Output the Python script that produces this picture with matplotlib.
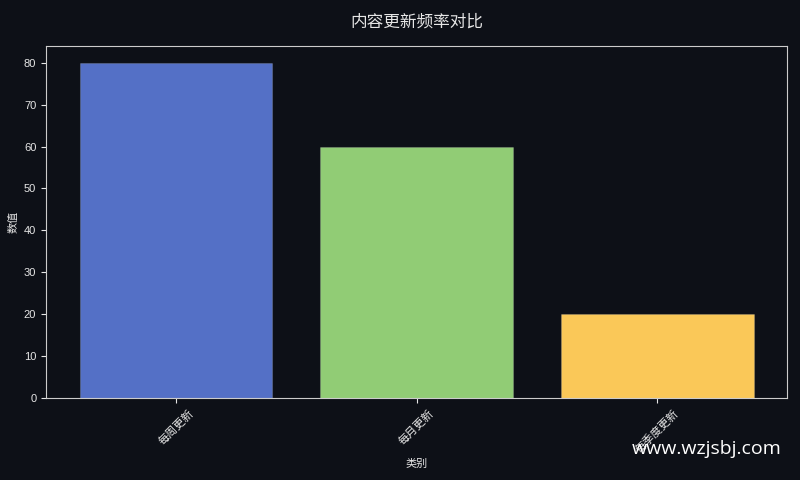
import matplotlib
matplotlib.use("Agg")
import matplotlib.pyplot as plt

categories = ["每周更新", "每月更新", "每季度更新"]
values = [80, 60, 20]
colors = ["#5470c6", "#91cc75", "#fac858"]

plt.rcParams["font.family"] = ["Liberation Sans", "Noto Sans CJK SC", "DejaVu Sans"]

bg = "#0d1017"
fg = "#e6e6e6"

fig, ax = plt.subplots(figsize=(8, 4.8), dpi=100)
fig.patch.set_facecolor(bg)
ax.set_facecolor(bg)

ax.bar(categories, values, color=colors, width=0.8, edgecolor=(1, 1, 1, 0.15), linewidth=0.8)

ax.set_title("内容更新频率对比", color=fg, fontsize=12, pad=14)
ax.set_xlabel("类别", color=fg, fontsize=8, labelpad=3)
ax.set_ylabel("数值", color=fg, fontsize=8)
ax.tick_params(colors=fg, labelsize=8)
plt.xticks(rotation=45)
for s in ax.spines.values():
    s.set_color("#cccccc")

plt.subplots_adjust(left=0.0575, right=0.984, top=0.904, bottom=0.171)

fig.text(0.977, 0.065, "www.wzjsbj.com", color="white", fontsize=14,
         ha="right", va="center", family=["Open Sans", "DejaVu Sans"])

plt.savefig("out.png", facecolor=bg)
